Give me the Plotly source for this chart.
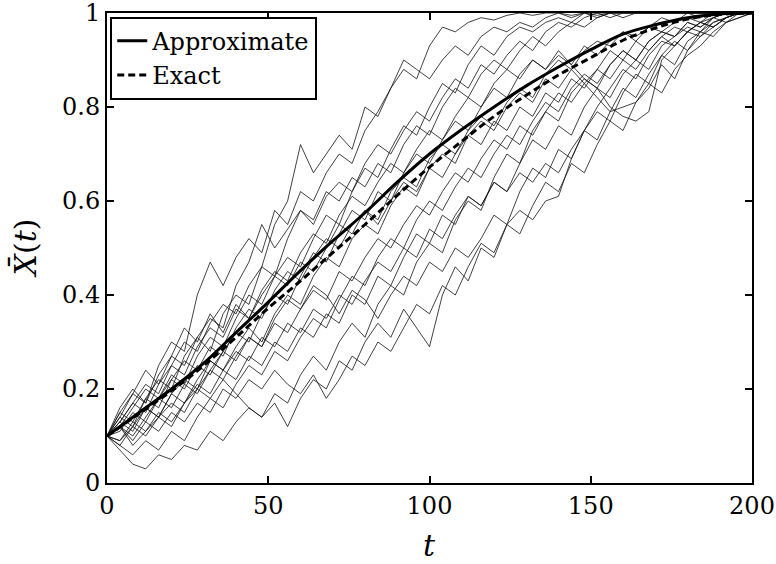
import plotly.graph_objects as go

# time grid for sample paths (step 4)
T = [4 * i for i in range(51)]

# deterministic curves
t_curve = [0, 10, 20, 30, 40, 50, 60, 70, 80, 90, 100, 110, 120, 130, 140, 150, 160, 170, 180, 190, 200]
approx = [0.100, 0.150, 0.200, 0.255, 0.320, 0.385, 0.452, 0.515, 0.575, 0.640, 0.700,
          0.752, 0.800, 0.845, 0.885, 0.922, 0.955, 0.975, 0.990, 0.998, 1.000]
exact = [0.100, 0.148, 0.196, 0.250, 0.310, 0.372, 0.430, 0.490, 0.550, 0.612, 0.672,
         0.727, 0.780, 0.825, 0.868, 0.905, 0.942, 0.968, 0.987, 0.997, 1.000]

# sample paths
pA = [.10,.14,.12,.18,.22,.20,.27,.31,.28,.36,.40,.38,.46,.55,.60,.72,.66,.70,.74,.71,.80,.78,.84,.88,.86,.93,.97,.96,.98,.99,.985,.995,1.0,.995,1.0,1.0,.995,1.0,1.0,1.0,1.0,1.0,1.0,1.0,1.0,1.0,1.0,1.0,1.0,1.0,1.0]
pB = [.10,.16,.20,.17,.25,.30,.28,.40,.47,.42,.48,.52,.49,.58,.55,.62,.60,.66,.70,.68,.75,.79,.84,.90,.88,.86,.90,.93,.91,.95,.97,.96,.98,.97,.99,1.0,.99,1.0,.995,1.0,1.0,1.0,1.0,1.0,1.0,1.0,1.0,1.0,1.0,1.0,1.0]
pC = [.10,.07,.04,.03,.06,.05,.08,.07,.11,.09,.13,.16,.14,.19,.17,.23,.27,.24,.30,.34,.31,.38,.42,.40,.47,.51,.49,.56,.60,.58,.65,.70,.68,.75,.79,.77,.83,.86,.84,.89,.92,.90,.94,.96,.95,.98,.97,.99,1.0,1.0,1.0]
pD = [.10,.12,.08,.11,.14,.12,.17,.20,.18,.22,.19,.16,.14,.17,.12,.18,.22,.20,.26,.24,.30,.34,.31,.37,.33,.29,.40,.46,.43,.50,.48,.55,.58,.56,.60,.61,.69,.75,.80,.84,.88,.86,.91,.94,.93,.96,.98,.97,.99,1.0,1.0]
pE = [.10,.13,.17,.15,.21,.25,.23,.29,.33,.31,.37,.35,.41,.45,.43,.49,.53,.51,.57,.61,.59,.64,.68,.66,.71,.75,.73,.78,.82,.80,.85,.88,.86,.90,.88,.92,.89,.86,.84,.80,.78,.77,.79,.90,.93,.96,.95,.98,.99,1.0,1.0]
pF = [.10,.08,.12,.16,.14,.19,.22,.20,.26,.24,.29,.33,.30,.36,.40,.38,.44,.48,.46,.52,.55,.53,.59,.63,.61,.67,.70,.68,.74,.77,.75,.80,.83,.81,.86,.84,.88,.85,.82,.79,.80,.81,.84,.89,.86,.92,.95,.97,.99,1.0,1.0]
pG = [.10,.09,.13,.11,.15,.13,.17,.21,.19,.24,.22,.27,.25,.30,.28,.33,.31,.36,.34,.40,.38,.44,.42,.48,.53,.51,.57,.55,.61,.59,.64,.62,.68,.73,.71,.76,.74,.80,.84,.82,.87,.90,.88,.93,.95,.97,.96,.99,1.0,1.0,1.0]
pH = [.10,.14,.19,.17,.23,.27,.25,.31,.35,.33,.42,.47,.55,.50,.54,.58,.56,.62,.60,.65,.63,.68,.66,.72,.76,.74,.80,.84,.82,.87,.90,.88,.92,.95,.93,.96,.98,.97,.99,1.0,.99,1.0,1.0,1.0,1.0,1.0,1.0,1.0,1.0,1.0,1.0]
pI = [.10,.12,.10,.14,.18,.16,.21,.19,.24,.28,.26,.31,.29,.35,.39,.37,.42,.40,.36,.41,.39,.35,.40,.44,.42,.47,.45,.50,.48,.52,.57,.55,.62,.67,.65,.71,.69,.75,.79,.77,.83,.87,.85,.91,.94,.92,.96,.98,.99,1.0,1.0]
pJ = [.10,.15,.13,.18,.16,.22,.26,.24,.29,.27,.33,.37,.35,.41,.45,.43,.48,.52,.50,.55,.58,.56,.62,.65,.63,.69,.72,.70,.75,.78,.76,.81,.84,.82,.87,.90,.88,.92,.94,.93,.96,.95,.97,.99,.98,1.0,.99,1.0,1.0,1.0,1.0]
pK = [.10,.13,.17,.21,.19,.25,.30,.28,.34,.38,.36,.42,.46,.44,.52,.58,.55,.61,.64,.62,.68,.72,.70,.75,.79,.77,.82,.86,.84,.89,.87,.91,.94,.92,.96,.98,.97,.99,1.0,.99,1.0,1.0,1.0,1.0,1.0,1.0,1.0,1.0,1.0,1.0,1.0]
pL = [.10,.08,.06,.09,.07,.11,.09,.14,.18,.16,.21,.25,.23,.28,.26,.31,.35,.33,.39,.44,.42,.48,.52,.50,.56,.60,.58,.63,.67,.65,.70,.74,.72,.77,.81,.79,.84,.87,.85,.89,.92,.90,.94,.96,.95,.98,.97,.99,1.0,1.0,1.0]
pM = [.10,.12,.09,.13,.11,.15,.13,.17,.15,.20,.18,.22,.20,.24,.21,.19,.23,.18,.22,.27,.25,.30,.28,.33,.38,.36,.42,.40,.46,.51,.49,.55,.53,.59,.64,.62,.68,.66,.72,.77,.75,.81,.85,.83,.88,.91,.93,.96,.98,.99,1.0]
pN = [.10,.11,.15,.13,.18,.22,.20,.25,.23,.28,.32,.30,.36,.40,.38,.44,.49,.47,.53,.58,.56,.62,.60,.66,.70,.68,.73,.77,.75,.80,.84,.82,.87,.90,.88,.91,.89,.93,.91,.94,.96,.94,.97,.96,.98,.99,.98,1.0,1.0,1.0,1.0]
pO = [.10,.13,.11,.16,.14,.19,.17,.22,.26,.24,.28,.26,.31,.29,.34,.32,.37,.35,.40,.38,.43,.47,.45,.50,.48,.54,.52,.57,.61,.59,.64,.62,.66,.64,.68,.66,.71,.75,.73,.79,.84,.82,.87,.91,.89,.94,.96,.95,.98,.99,1.0]
pP = [.10,.15,.19,.24,.21,.27,.33,.30,.36,.32,.38,.35,.40,.44,.42,.47,.45,.50,.55,.53,.58,.55,.60,.64,.62,.67,.65,.70,.74,.72,.77,.75,.80,.78,.83,.81,.86,.84,.88,.92,.90,.94,.92,.95,.97,.96,.98,.99,.98,1.0,1.0]
pQ = [.10,.12,.16,.20,.18,.23,.21,.27,.31,.29,.35,.40,.38,.44,.48,.46,.52,.57,.55,.62,.67,.65,.71,.76,.74,.80,.85,.83,.89,.93,.91,.95,.97,.96,.98,.99,.98,1.0,.99,1.0,1.0,1.0,1.0,1.0,1.0,1.0,1.0,1.0,1.0,1.0,1.0]
pR = [.10,.09,.12,.10,.14,.17,.15,.20,.24,.22,.27,.31,.29,.34,.32,.37,.41,.39,.45,.43,.48,.52,.50,.55,.59,.57,.62,.66,.64,.69,.73,.71,.76,.74,.79,.83,.81,.85,.88,.86,.90,.88,.92,.95,.93,.96,.98,.97,.99,1.0,1.0]

paths = [pA, pB, pC, pD, pE, pF, pG, pH, pI, pJ, pK, pL, pM, pN, pO, pP, pQ, pR]

serif = "DejaVu Serif"

fig = go.Figure()
for p in paths:
    fig.add_trace(go.Scatter(x=T[:len(p)], y=p, mode="lines",
                             line=dict(color="#111", width=0.8),
                             showlegend=False, hoverinfo="skip"))

fig.add_trace(go.Scatter(x=t_curve, y=approx, mode="lines", name="Approximate",
                         line=dict(color="black", width=3, shape="spline")))
fig.add_trace(go.Scatter(x=t_curve, y=exact, mode="lines", name="Exact",
                         line=dict(color="black", width=3, dash="7px,4px", shape="spline")))

axis_common = dict(showline=True, linecolor="black", linewidth=2, mirror="ticks",
                   ticks="inside", ticklen=7, tickwidth=2, tickcolor="black",
                   showgrid=False, zeroline=False, ticklabeloverflow="allow",
                   automargin=False,
                   tickfont=dict(family=serif, size=24, color="black"))

fig.update_xaxes(range=[0, 200], tickvals=[0, 50, 100, 150, 200], **axis_common)
fig.update_yaxes(range=[0, 1], tickvals=[0, 0.2, 0.4, 0.6, 0.8, 1],
                 ticktext=["0", "0.2", "0.4", "0.6", "0.8", "1"], **axis_common)

fig.update_layout(
    width=776, height=564,
    margin=dict(l=107, r=24, t=13, b=81),
    plot_bgcolor="white", paper_bgcolor="white",
    font=dict(family=serif, color="black"),
    legend=dict(x=0.005, y=0.992, xanchor="left", yanchor="top",
                bgcolor="white", bordercolor="black", borderwidth=2,
                font=dict(family=serif, size=24, color="black"),
                itemwidth=30, tracegroupgap=0),
    annotations=[
        dict(text="<i>t</i>", xref="paper", yref="paper", x=0.5, y=-0.132,
             xanchor="center", yanchor="middle", showarrow=False,
             font=dict(family=serif, size=30, color="black")),
        dict(text="<i>X\u0304</i>(<i>t</i>)", xref="paper", yref="paper", x=-0.128, y=0.5,
             xanchor="center", yanchor="middle", showarrow=False, textangle=-90,
             font=dict(family=serif, size=30, color="black")),
    ],
)

fig.write_html("out.html", config={"displayModeBar": False},
               post_script="document.body.style.margin='0';document.body.style.overflow='hidden';")
